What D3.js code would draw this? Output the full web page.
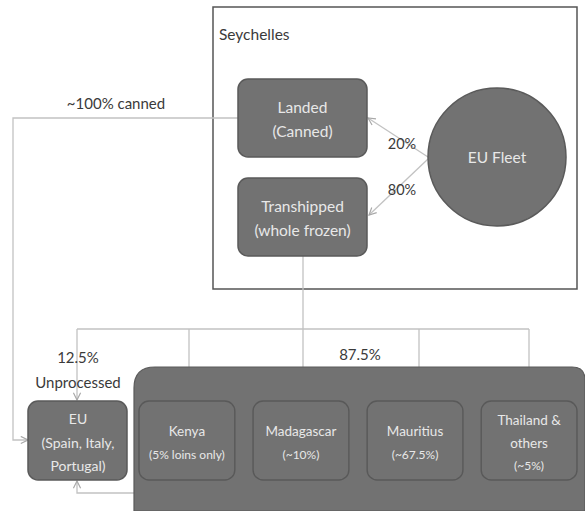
<!DOCTYPE html>
<html>
<head>
<meta charset="utf-8">
<script src="https://cdn.jsdelivr.net/npm/d3@7"></script>
<style>
  body { margin: 0; background: #fff; }
  svg text { font-family: Lato, "Open Sans", sans-serif; }
</style>
</head>
<body>
<div id="graph"></div>
<script>
// labels and shares
var regionLabel = 'Seychelles';
var fleetLabel = 'EU Fleet';
var seyNodes = [['Landed', '(Canned)'], ['Transhipped', '(whole frozen)']];
var fleetShares = ['20%', '80%'];
var cannedLabel = '~100% canned';
var euLines = ['EU', '(Spain, Italy,', 'Portugal)'];
var euShare = ['12.5%', 'Unprocessed'];
var processedShare = '87.5%';
var processors = ['Kenya', 'Madagascar', 'Mauritius', 'Thailand &\nothers'];
var processorNotes = ['(5% loins only)', '(~10%)', '(~67.5%)', '(~5%)'];

var width = 585, height = 511;
var boxFill = '#727272', boxStroke = '#5a5a5a', lineCol = '#c2c2c2', txtLight = '#e8e8e8', txtDark = '#3a3a3a';

var svg = d3.select('#graph').append('svg').attr('width', width).attr('height', height);
var defs = svg.append('defs');
defs.append('marker').attr('id', 'arr').attr('viewBox', '0 0 10 10')
  .attr('refX', 9).attr('refY', 5).attr('markerWidth', 9).attr('markerHeight', 9)
  .attr('orient', 'auto-start-reverse').attr('markerUnits', 'userSpaceOnUse')
  .append('path').attr('d', 'M1,1 L9,5 L1,9').attr('fill', 'none')
  .attr('stroke', '#a8a8a8').attr('stroke-width', 1.3);

// Seychelles frame
svg.append('rect').attr('x', 213).attr('y', 7).attr('width', 364).attr('height', 282)
  .attr('fill', 'none').attr('stroke', '#555').attr('stroke-width', 1.5);
svg.append('text').attr('x', 219).attr('y', 40).attr('font-size', 15.5).attr('fill', txtDark).text(regionLabel);

// connector lines (drawn under boxes)
var lines = svg.append('g').attr('fill', 'none').attr('stroke', lineCol).attr('stroke-width', 1.3);
lines.append('path').attr('d', 'M238,118 H13 V440 H28').attr('marker-end', 'url(#arr)');
lines.append('path').attr('d', 'M303,256 V329');
var dropX = [189, 303, 419, 529];
lines.append('path').attr('d', 'M77,329 H529');
lines.append('path').attr('d', 'M77,329 V400').attr('marker-end', 'url(#arr)');
dropX.forEach(function(x){ lines.append('path').attr('d', 'M' + x + ',329 V368'); });
lines.append('path').attr('d', 'M134,493 H77 V481').attr('marker-end', 'url(#arr)');
lines.append('path').attr('d', 'M428,157 L368,118').attr('marker-end', 'url(#arr)');
lines.append('path').attr('d', 'M428,159 L369,215').attr('marker-end', 'url(#arr)');

// Seychelles boxes
var seyY = [79, 178];
seyNodes.forEach(function(lab, i){
  var g = svg.append('g');
  g.append('rect').attr('x', 238).attr('y', seyY[i]).attr('width', 129).attr('height', 78)
    .attr('rx', 10).attr('fill', boxFill).attr('stroke', boxStroke).attr('stroke-width', 1.5);
  lab.forEach(function(t, j){
    g.append('text').attr('x', 302.5).attr('y', seyY[i] + 34 + j * 24).attr('text-anchor', 'middle')
      .attr('font-size', 15.5).attr('fill', txtLight).text(t);
  });
});

// EU fleet circle
svg.append('circle').attr('cx', 497).attr('cy', 157).attr('r', 69)
  .attr('fill', boxFill).attr('stroke', boxStroke).attr('stroke-width', 1.5);
svg.append('text').attr('x', 497).attr('y', 163).attr('text-anchor', 'middle')
  .attr('font-size', 15.5).attr('fill', txtLight).text(fleetLabel);
var shareY = [149, 195];
fleetShares.forEach(function(s, i){
  svg.append('text').attr('x', 402).attr('y', shareY[i]).attr('text-anchor', 'middle')
    .attr('font-size', 14.5).attr('fill', txtDark).text(s);
});

svg.append('text').attr('x', 116).attr('y', 109).attr('text-anchor', 'middle')
  .attr('font-size', 15).attr('fill', txtDark).text(cannedLabel);

// processing block
svg.append('path').attr('d', 'M134,388 Q134,367 155,367 H572 Q585,367 585,380 V511 H134 Z')
  .attr('fill', boxFill).attr('stroke', boxStroke).attr('stroke-width', 1.2);

var procX = d3.scaleBand().domain(processors).range([139, 577]).paddingInner(0.16).paddingOuter(0);
processors.forEach(function(p, i){
  var g = svg.append('g');
  var x0 = procX(p), w = procX.bandwidth();
  g.append('rect').attr('x', x0).attr('y', 401).attr('width', w).attr('height', 79)
    .attr('rx', 10).attr('fill', boxFill).attr('stroke', '#595959').attr('stroke-width', 1.4);
  var parts = p.split('\n').concat([processorNotes[i]]);
  var y0 = parts.length === 3 ? 425 : 436;
  parts.forEach(function(t, j){
    g.append('text').attr('x', x0 + w / 2).attr('y', y0 + j * 22.5).attr('text-anchor', 'middle')
      .attr('font-size', j === parts.length - 1 ? 12 : 13.5).attr('fill', txtLight).text(t);
  });
});

// EU destination box
svg.append('rect').attr('x', 28).attr('y', 401).attr('width', 99).attr('height', 79)
  .attr('rx', 10).attr('fill', boxFill).attr('stroke', boxStroke).attr('stroke-width', 1.5);
euLines.forEach(function(t, j){
  svg.append('text').attr('x', 78).attr('y', 424 + j * 23.5).attr('text-anchor', 'middle')
    .attr('font-size', 14).attr('fill', txtLight).text(t);
});
euShare.forEach(function(t, j){
  svg.append('text').attr('x', 78).attr('y', 363 + j * 25).attr('text-anchor', 'middle')
    .attr('font-size', 15).attr('fill', txtDark).text(t);
});
svg.append('text').attr('x', 360).attr('y', 360).attr('text-anchor', 'middle')
  .attr('font-size', 15).attr('fill', txtDark).text(processedShare);
</script>
</body>
</html>
